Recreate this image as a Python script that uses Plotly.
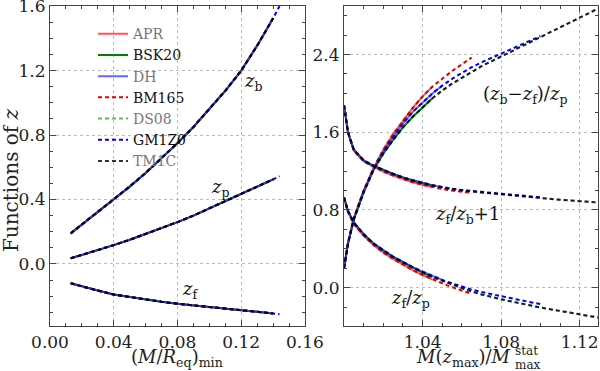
import plotly.graph_objects as go

# left panel: functions of z against the minimum compactness
c_min = [0.013, 0.02, 0.03, 0.04, 0.05, 0.06, 0.07, 0.08, 0.09, 0.10, 0.11, 0.12, 0.13, 0.14, 0.144]
zb_left = [0.19, 0.245, 0.322, 0.40, 0.48, 0.565, 0.655, 0.75, 0.85, 0.96, 1.075, 1.20, 1.355, 1.525, 1.60]
zp_left = [0.035, 0.055, 0.085, 0.117, 0.15, 0.186, 0.222, 0.26, 0.30, 0.345, 0.385, 0.43, 0.475, 0.525, 0.545]
zf_left = [-0.12, -0.14, -0.165, -0.19, -0.205, -0.222, -0.235, -0.247, -0.258, -0.268, -0.278, -0.287, -0.297, -0.307, -0.312]

# right panel: ratios against M(z_max)/M_max^stat
m_ratio = [1.0, 1.002, 1.005, 1.01, 1.015, 1.02, 1.025, 1.03, 1.035, 1.04, 1.045,
           1.05, 1.055, 1.06, 1.065, 1.07, 1.08, 1.09, 1.10, 1.11, 1.12, 1.13]

ratio_bfp = {
    'black': [0.20, 0.45, 0.70, 0.98, 1.21, 1.38, 1.52, 1.65, 1.76, 1.86, 1.95,
              2.03, 2.10, 2.16, 2.22, 2.28, 2.38, 2.48, 2.58, 2.68, 2.78, 2.88],
    'red': [0.20, 0.46, 0.72, 1.00, 1.23, 1.42, 1.58, 1.72, 1.85, 1.97, 2.07,
            2.15, 2.23, 2.30, 2.37],
    'blue': [0.20, 0.45, 0.71, 0.99, 1.22, 1.40, 1.55, 1.69, 1.81, 1.91, 2.00,
             2.08, 2.15, 2.21, 2.27, 2.32, 2.41, 2.50, 2.59],
}
ratio_fb = {
    'black': [1.88, 1.60, 1.42, 1.31, 1.255, 1.21, 1.17, 1.135, 1.10, 1.075, 1.05,
              1.03, 1.015, 1.00, 0.99, 0.98, 0.96, 0.94, 0.925, 0.905, 0.89, 0.875],
    'red': [1.88, 1.60, 1.41, 1.30, 1.245, 1.195, 1.155, 1.12, 1.085, 1.06, 1.035,
            1.015, 1.0, 0.985, 0.975],
    'blue': [1.88, 1.60, 1.42, 1.31, 1.255, 1.21, 1.17, 1.135, 1.105, 1.08, 1.055,
             1.035, 1.02, 1.005, 0.995, 0.985, 0.965, 0.945, 0.93],
}
ratio_fp = {
    'black': [0.93, 0.79, 0.67, 0.55, 0.455, 0.38, 0.315, 0.26, 0.205, 0.155, 0.11,
              0.07, 0.03, -0.005, -0.04, -0.07, -0.12, -0.165, -0.205, -0.24, -0.275, -0.31],
    'red': [0.93, 0.78, 0.655, 0.535, 0.44, 0.36, 0.295, 0.235, 0.18, 0.13, 0.085,
            0.045, 0.005, -0.03, -0.065],
    'blue': [0.93, 0.79, 0.67, 0.55, 0.455, 0.385, 0.32, 0.265, 0.21, 0.165, 0.12,
             0.08, 0.045, 0.01, -0.02, -0.045, -0.09, -0.13, -0.17],
}

eos_names = ['APR', 'BSK20', 'DH', 'BM165', 'DS08', 'GM1Z0', 'TM1C']
eos_group = ['red', 'black', 'blue', 'red', 'black', 'blue', 'black']
left_npts = [14, 14, 14, 14, 14, 15, 14]
right_npts = [11, 11, 12, 15, 22, 19, 22]

estilos = {
    'APR': dict(color='rgba(255,30,30,0.75)', dash='solid', label='#777'),
    'BSK20': dict(color='#008000', dash='solid', label='#111'),
    'DH': dict(color='rgba(40,40,255,0.7)', dash='solid', label='#777'),
    'BM165': dict(color='#e00000', dash='4px,3px', label='#111'),
    'DS08': dict(color='rgba(0,128,0,0.6)', dash='4px,3px', label='#777'),
    'GM1Z0': dict(color='#0000ee', dash='4px,3px', label='#111'),
    'TM1C': dict(color='rgba(0,0,0,0.8)', dash='4px,3px', label='#777'),
}

fig = go.Figure()

for nombre, grupo, nl, nr in zip(eos_names, eos_group, left_npts, right_npts):
    st = estilos[nombre]
    linea = dict(color=st['color'], dash=st['dash'], width=2)
    for k, serie in enumerate([zb_left, zp_left, zf_left]):
        fig.add_trace(go.Scatter(
            x=c_min[:nl], y=serie[:nl], mode='lines', line=linea,
            name=f"<span style='color:{st['label']}'>{nombre}</span>",
            legendgroup=nombre, showlegend=(k == 0), xaxis='x', yaxis='y'))
    for fam in [ratio_bfp, ratio_fb, ratio_fp]:
        fig.add_trace(go.Scatter(
            x=m_ratio[:nr], y=fam[grupo][:nr], mode='lines', line=linea,
            legendgroup=nombre, showlegend=False, xaxis='x2', yaxis='y2'))

fuente = dict(family='DejaVu Serif', size=17, color='#222')
eje = dict(showline=True, linecolor='#444', linewidth=1.2, mirror='allticks',
           ticks='inside', ticklen=6, tickcolor='#444', showgrid=True,
           gridcolor='#bbb', griddash='dot', gridwidth=1, zeroline=False,
           tickfont=fuente, automargin=False, ticklabeloverflow='allow',
           minor=dict(ticks='inside', ticklen=3, tickcolor='#444', showgrid=False))

fig.update_layout(
    width=600, height=371,
    margin=dict(l=50, r=2, t=6, b=45),
    plot_bgcolor='white', paper_bgcolor='white',
    font=fuente,
    xaxis=dict(eje, domain=[0, 0.4653], range=[0, 0.16], tickvals=[0, 0.04, 0.08, 0.12, 0.16],
               ticktext=['0.00', '0.04', '0.08', '0.12', '0.16'],
               minor=dict(eje['minor'], dtick=0.01)),
    yaxis=dict(eje, domain=[0, 1], range=[-0.385, 1.601], tickvals=[0, 0.4, 0.8, 1.2, 1.6],
               ticktext=['0.0', '0.4', '0.8', '1.2', '1.6'],
               minor=dict(eje['minor'], dtick=0.1)),
    xaxis2=dict(eje, domain=[0.5365, 1], range=[1.0, 1.1293], tickvals=[1.04, 1.08, 1.12],
                minor=dict(eje['minor'], dtick=0.01), anchor='y2'),
    yaxis2=dict(eje, domain=[0, 1], range=[-0.395, 2.9], tickvals=[0, 0.8, 1.6, 2.4],
                ticktext=['0.0', '0.8', '1.6', '2.4'],
                minor=dict(eje['minor'], dtick=0.2), anchor='x2'),
    legend=dict(x=0.0784, y=0.962, xanchor='left', yanchor='top', bgcolor='rgba(0,0,0,0)',
                font=dict(family='DejaVu Serif', size=14), tracegroupgap=0, itemwidth=30),
)

etiquetas = [
    ('x', 'y', 0.128, 1.13, '<i>z</i><sub>b</sub>'),
    ('x', 'y', 0.107, 0.47, '<i>z</i><sub>p</sub>'),
    ('x', 'y', 0.088, -0.16, '<i>z</i><sub>f</sub>'),
    ('x2', 'y2', 1.092, 1.98, '(<i>z</i><sub>b</sub>−<i>z</i><sub>f</sub>)/<i>z</i><sub>p</sub>'),
    ('x2', 'y2', 1.063, 0.75, '<i>z</i><sub>f</sub>/<i>z</i><sub>b</sub>+1'),
    ('x2', 'y2', 1.034, -0.12, '<i>z</i><sub>f</sub>/<i>z</i><sub>p</sub>'),
]
for xr, yr, xv, yv, txt in etiquetas:
    fig.add_annotation(x=xv, y=yv, xref=xr, yref=yr, text=txt, showarrow=False,
                       font=dict(family='DejaVu Serif', size=18, color='#111'))

# axis titles placed as annotations
titulo = dict(family='DejaVu Serif', size=18, color='#222')
fig.add_annotation(x=0.2326, y=-0.1, xref='paper', yref='paper', showarrow=False,
                   text='(<i>M</i>/<i>R</i><sub>eq</sub>)<sub>min</sub>', font=titulo,
                   xanchor='center', yanchor='middle')
fig.add_annotation(x=-0.0712, y=0.456, xref='paper', yref='paper', showarrow=False, textangle=-90,
                   text='Functions of <i>z</i>', font=dict(titulo, size=20),
                   xanchor='center', yanchor='middle')
fig.add_annotation(x=0.845, y=-0.1, xref='paper', yref='paper', showarrow=False,
                   text='<i>M</i>(<i>z</i><sub>max</sub>)/<i>M</i>', font=titulo,
                   xanchor='right', yanchor='middle')
fig.add_annotation(x=0.845, y=-0.078, xref='paper', yref='paper', showarrow=False,
                   text='stat', font=dict(titulo, size=12), xanchor='left', yanchor='middle')
fig.add_annotation(x=0.845, y=-0.122, xref='paper', yref='paper', showarrow=False,
                   text='max', font=dict(titulo, size=12), xanchor='left', yanchor='middle')

fig.write_html("out.html", config={'displayModeBar': False},
               post_script="document.body.style.margin='0';")
